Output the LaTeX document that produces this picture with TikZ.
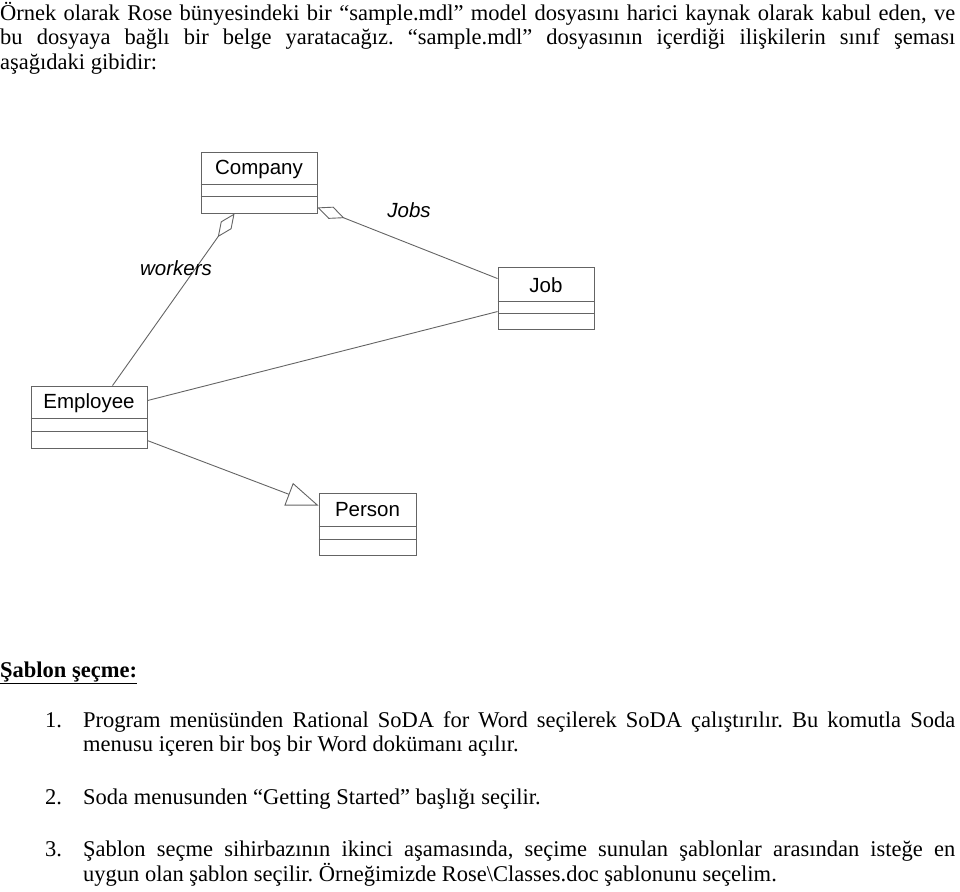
\documentclass[tikz,border=0pt]{standalone}
\usepackage{fontspec}
\setmainfont{Liberation Serif}
\newfontfamily\umlfont{Liberation Sans}
\usetikzlibrary{arrows.meta}
\definecolor{umlgray}{RGB}{100,100,100}
\newcommand{\justline}[2]{\hbox to #1{\spaceskip=0.2em plus 2em minus 0.05em\relax #2}}
\begin{document}
\frenchspacing
\begin{tikzpicture}[x=1pt,y=-1pt,
  txt/.style={anchor=base west, inner sep=0pt, font=\fontsize{22.5}{26}\selectfont},
  classbox/.style={draw=umlgray, line width=0.9pt, inner sep=0pt},
  divider/.style={draw=umlgray, line width=0.9pt},
  classname/.style={inner sep=0pt, font=\umlfont\fontsize{20.5}{24}\selectfont},
  rolename/.style={inner sep=0pt, font=\umlfont\itshape\fontsize{20.5}{24}\selectfont},
  conn/.style={draw=umlgray, line width=0.9pt},
  aggr/.style={conn, {Diamond[open, length=29pt, width=13pt, line width=0.9pt]}-},
  gener/.style={conn, -{Triangle[open, length=32pt, width=24pt, line width=0.9pt]}}
]
\useasboundingbox (0,0) rectangle (960,891);

% ---- intro paragraph
\node[txt] (p1) at (0,21) {\justline{955pt}{Örnek olarak Rose bünyesindeki bir “sample.mdl” model dosyasını harici kaynak olarak kabul eden, ve}};
\node[txt] (p2) at (0,45) {\justline{955pt}{bu dosyaya bağlı bir belge yaratacağız. “sample.mdl” dosyasının içerdiği ilişkilerin sınıf şeması}};
\node[txt] (p3) at (0,69) {aşağıdaki gibidir:};

% ---- class boxes
\node[classbox, minimum width=116pt, minimum height=61pt] (company) at (259,182.5) {};
\node[classbox, minimum width=96pt, minimum height=62pt] (job) at (546,298) {};
\node[classbox, minimum width=116pt, minimum height=62pt] (employee) at (89,417) {};
\node[classbox, minimum width=97pt, minimum height=62pt] (person) at (367.5,524) {};

\draw[divider] ([yshift=-33pt]company.north west) -- ([yshift=-33pt]company.north east);
\draw[divider] ([yshift=-45pt]company.north west) -- ([yshift=-45pt]company.north east);
\draw[divider] ([yshift=-35pt]job.north west) -- ([yshift=-35pt]job.north east);
\draw[divider] ([yshift=-47pt]job.north west) -- ([yshift=-47pt]job.north east);
\draw[divider] ([yshift=-33pt]employee.north west) -- ([yshift=-33pt]employee.north east);
\draw[divider] ([yshift=-46pt]employee.north west) -- ([yshift=-46pt]employee.north east);
\draw[divider] ([yshift=-34pt]person.north west) -- ([yshift=-34pt]person.north east);
\draw[divider] ([yshift=-47pt]person.north west) -- ([yshift=-47pt]person.north east);

\node[classname] (companyname) at (259,169) {Company};
\node[classname] (jobname) at (546,285) {Job};
\node[classname] (employeename) at (89,403) {Employee};
\node[classname] (personname) at (367.5,510) {Person};

% ---- connectors
\draw[aggr] ([xshift=34pt]company.south west) -- ([xshift=82pt]employee.north west);
\draw[aggr] ([yshift=6pt]company.south east) -- ([yshift=-12pt]job.north west);
\draw[conn] ([yshift=-15pt]employee.north east) -- ([yshift=-45pt]job.north west);
\draw[gener] ([yshift=-55pt]employee.north east) -- ([yshift=-13pt]person.north west);

\node[rolename] (workers) at (176,268) {workers};
\node[rolename] (jobs) at (409,210) {Jobs};

% ---- second part
\node[txt] (head) at (0,677) {\underline{\textbf{Şablon şeçme:}}};

\node[txt] (n1) at (45,727) {1.};
\node[txt] (i1a) at (83,727) {\justline{872pt}{Program menüsünden Rational SoDA for Word seçilerek SoDA çalıştırılır. Bu komutla Soda}};
\node[txt] (i1b) at (83,751) {menusu içeren bir boş bir Word dokümanı açılır.};

\node[txt] (n2) at (45,804) {2.};
\node[txt] (i2) at (83,804) {Soda menusunden “Getting Started” başlığı seçilir.};

\node[txt] (n3) at (45,856) {3.};
\node[txt] (i3a) at (83,856) {\justline{872pt}{Şablon seçme sihirbazının ikinci aşamasında, seçime sunulan şablonlar arasından isteğe en}};
\node[txt] (i3b) at (83,881) {uygun olan şablon seçilir. Örneğimizde Rose\textbackslash Classes.doc şablonunu seçelim.};
\end{tikzpicture}
\end{document}
